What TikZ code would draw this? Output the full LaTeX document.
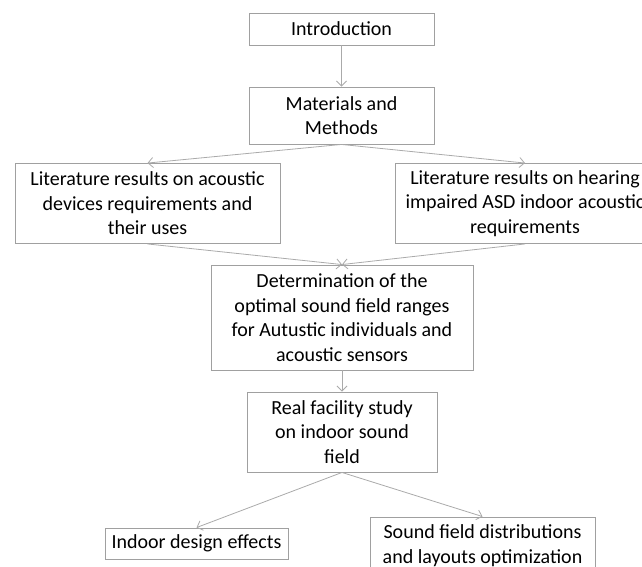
\documentclass[tikz,border=0pt]{standalone}
\usepackage{fontspec}
\setmainfont{Carlito}
\usetikzlibrary{arrows.meta}
\definecolor{boxline}{RGB}{160,160,160}
\definecolor{arrline}{RGB}{170,170,170}
\tikzset{
  flowbox/.style={draw=boxline, line width=0.9pt, fill=white, align=center, inner sep=0pt,
    font=\fontsize{20}{24.5}\selectfont, text=black},
  flowarrow/.style={draw=arrline, line width=0.8pt, -{Straight Barb[length=5pt,width=10pt]}}
}
\begin{document}
\begin{tikzpicture}[x=1pt,y=-1pt]
\useasboundingbox (0,0) rectangle (642,567);
\clip (0,0) rectangle (642,567);
\node[flowbox, minimum width=185pt, minimum height=32pt] (intro) at (341.5,29) {Introduction};
\node[flowbox, minimum width=185pt, minimum height=57pt] (mm) at (341.5,115.5) {Materials and\\Methods};
\node[flowbox, minimum width=265pt, minimum height=80pt] (litl) at (147.5,203.5) {Literature results on acoustic\\devices requirements and\\their uses};
\node[flowbox, minimum width=260pt, minimum height=80pt] (litr) at (525,203.5) {Literature results on hearing\\impaired ASD indoor acoustic\\requirements};
\node[flowbox, minimum width=262pt, minimum height=105pt] (det) at (342,317.5) {Determination of the\\optimal sound field ranges\\for Autustic individuals and\\acoustic sensors};
\node[flowbox, minimum width=190pt, minimum height=80pt] (real) at (342,432) {Real facility study\\on indoor sound\\field};
\node[flowbox, minimum width=183pt, minimum height=31pt] (indoor) at (196.5,543.5) {Indoor design effects};
\node[flowbox, minimum width=225pt, minimum height=57pt] (sound) at (482.5,545.5) {Sound field distributions\\and layouts optimization};
\draw[flowarrow] (intro.south) -- (mm.north);
\draw[flowarrow] (mm.south) -- (litl.north);
\draw[flowarrow] (mm.south) -- (litr.north);
\draw[flowarrow] (litl.south) -- (det.north);
\draw[flowarrow] (litr.south) -- (det.north);
\draw[flowarrow] (det.south) -- (real.north);
\draw[flowarrow] (real.south) -- (indoor.north);
\draw[flowarrow] (real.south) -- (sound.north);
\end{tikzpicture}
\end{document}
